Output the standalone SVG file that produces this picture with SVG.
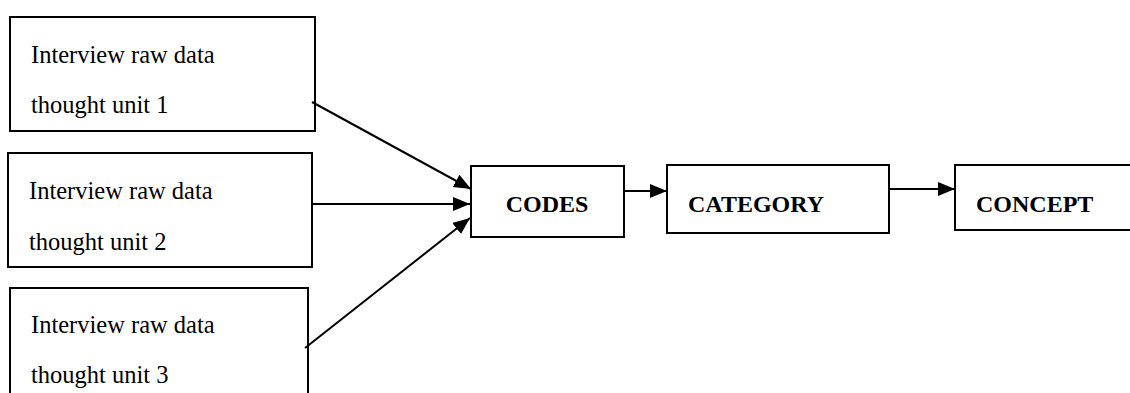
<svg xmlns="http://www.w3.org/2000/svg" width="1130" height="393" viewBox="0 0 1130 393">
<style>
.box{fill:#fff;stroke:#000;stroke-width:2}
.t{font-family:"Liberation Serif","Times New Roman",serif;font-size:24.5px;fill:#000}
.b{font-family:"Liberation Serif","Times New Roman",serif;font-size:24px;font-weight:bold;fill:#000}
.c{fill:none;stroke:#000;stroke-width:2}
</style>
<defs>
<marker id="ah" markerUnits="userSpaceOnUse" markerWidth="18" markerHeight="15" refX="17" refY="7" orient="auto">
<path d="M0,0 L17,7 L0,14 z" fill="#000"/>
</marker>
</defs>
<rect width="1130" height="393" fill="#fff"/>
<g id="n1"><rect class="box" x="10" y="17" width="305" height="114"/>
<text class="t" x="31" y="63">Interview raw data</text>
<text class="t" x="31" y="113">thought unit 1</text></g>
<g id="n2"><rect class="box" x="8" y="153" width="304" height="114"/>
<text class="t" x="29" y="199">Interview raw data</text>
<text class="t" x="29" y="250">thought unit 2</text></g>
<g id="n3"><rect class="box" x="10" y="288" width="298" height="120"/>
<text class="t" x="31" y="333">Interview raw data</text>
<text class="t" x="31" y="383">thought unit 3</text></g>
<g id="codes"><rect class="box" x="471" y="166" width="153" height="71"/>
<text class="b" x="547" y="212" text-anchor="middle">CODES</text></g>
<g id="category"><rect class="box" x="667" y="165" width="222" height="68"/>
<text class="b" x="688" y="212">CATEGORY</text></g>
<g id="concept"><rect class="box" x="955" y="165" width="190" height="65"/>
<text class="b" x="976" y="212">CONCEPT</text></g>
<g id="connectors">
<line class="c" x1="312" y1="102" x2="471" y2="189" marker-end="url(#ah)"/>
<line class="c" x1="312" y1="204" x2="470" y2="204" marker-end="url(#ah)"/>
<line class="c" x1="305" y1="348" x2="470" y2="218" marker-end="url(#ah)"/>
<line class="c" x1="624" y1="191" x2="667" y2="191" marker-end="url(#ah)"/>
<line class="c" x1="889" y1="189" x2="955" y2="189" marker-end="url(#ah)"/>
</g>
</svg>
